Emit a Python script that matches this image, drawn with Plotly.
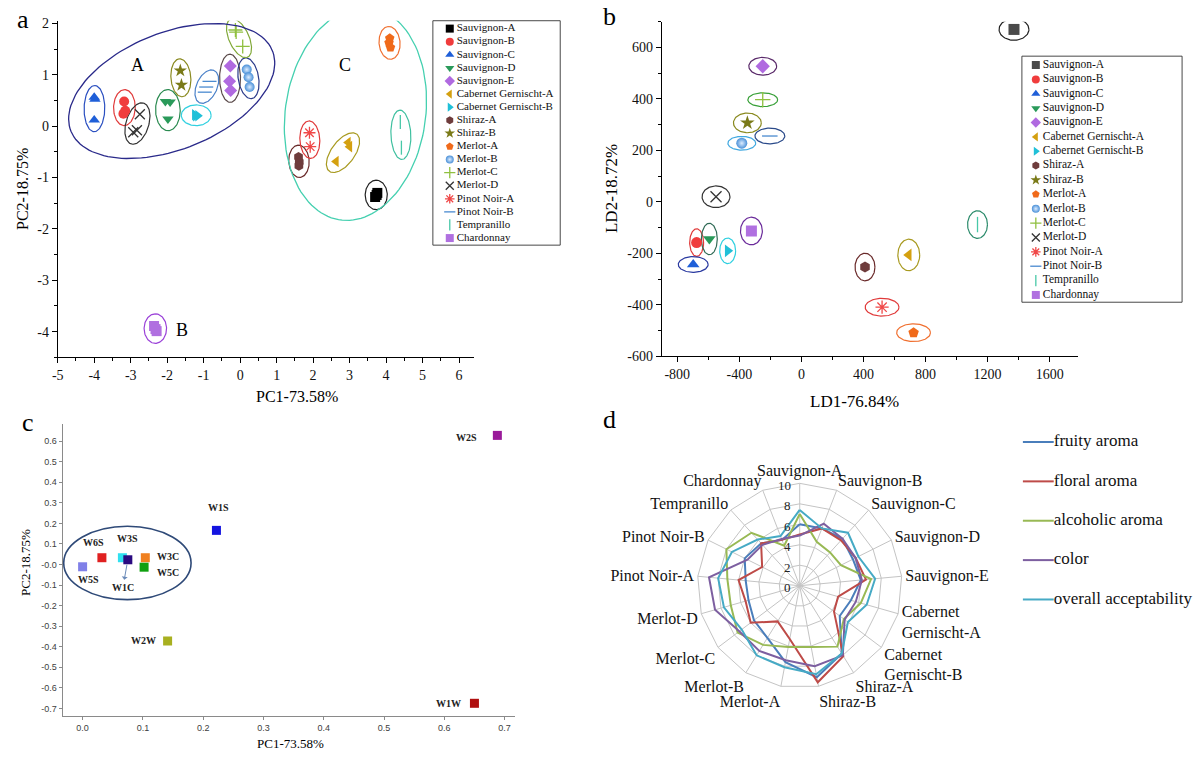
import numpy as np
import plotly.graph_objects as go

W, H = 1200, 763
SERIF = "Liberation Serif"
SANS = "Liberation Sans"

# ======================= DATA =======================
varieties = ["Sauvignon-A", "Sauvignon-B", "Sauvignon-C", "Sauvignon-D", "Sauvignon-E",
             "Cabernet Gernischt-A", "Cabernet Gernischt-B", "Shiraz-A", "Shiraz-B",
             "Merlot-A", "Merlot-B", "Merlot-C", "Merlot-D", "Pinot Noir-A",
             "Pinot Noir-B", "Tempranillo", "Chardonnay"]

# (a) PCA scores of replicate samples
pca_variety = ["Sauvignon-A", "Sauvignon-A", "Sauvignon-A",
               "Sauvignon-B", "Sauvignon-B", "Sauvignon-B",
               "Sauvignon-C", "Sauvignon-C", "Sauvignon-C",
               "Sauvignon-D", "Sauvignon-D", "Sauvignon-D",
               "Sauvignon-E", "Sauvignon-E", "Sauvignon-E",
               "Cabernet Gernischt-A", "Cabernet Gernischt-A", "Cabernet Gernischt-A",
               "Cabernet Gernischt-B", "Cabernet Gernischt-B", "Cabernet Gernischt-B",
               "Shiraz-A", "Shiraz-A", "Shiraz-A",
               "Shiraz-B", "Shiraz-B",
               "Merlot-A", "Merlot-A", "Merlot-A",
               "Merlot-B", "Merlot-B", "Merlot-B",
               "Merlot-C", "Merlot-C", "Merlot-C",
               "Merlot-D", "Merlot-D", "Merlot-D",
               "Pinot Noir-A", "Pinot Noir-A",
               "Pinot Noir-B", "Pinot Noir-B", "Pinot Noir-B",
               "Tempranillo", "Tempranillo",
               "Chardonnay", "Chardonnay", "Chardonnay"]
pca_pc1 = [3.76, 3.70, 3.74,
           -3.18, -3.15, -3.20,
           -4.00, -3.98, -4.00,
           -2.05, -1.92, -1.98,
           -0.27, -0.29, -0.26,
           2.96, 3.00, 2.63,
           -1.22, -1.25, -1.16,
           1.60, 1.62, 1.61,
           -1.64, -1.61,
           4.10, 4.08, 4.12,
           0.18, 0.23, 0.26,
           -0.13, -0.11, 0.07,
           -2.75, -2.83, -2.93,
           1.90, 1.92,
           -0.84, -0.93, -0.97,
           4.39, 4.42,
           -2.36, -2.29, -2.32]
pca_pc2 = [-1.30, -1.38, -1.34,
           0.48, 0.30, 0.24,
           0.56, 0.52, 0.12,
           0.48, 0.47, 0.14,
           1.17, 0.87, 0.69,
           -0.32, -0.40, -0.69,
           0.20, 0.22, 0.20,
           -0.60, -0.70, -0.77,
           1.08, 0.80,
           1.71, 1.62, 1.53,
           1.10, 0.95, 0.76,
           1.87, 1.83, 1.55,
           0.23, -0.08, -0.12,
           -0.13, -0.40,
           0.87, 0.76, 0.66,
           0.08, -0.42,
           -3.89, -3.99, -3.95]
cluster_A = ["Sauvignon-B", "Sauvignon-C", "Sauvignon-D", "Sauvignon-E", "Cabernet Gernischt-B",
             "Shiraz-B", "Merlot-B", "Merlot-C", "Merlot-D", "Pinot Noir-B"]
cluster_C = ["Sauvignon-A", "Cabernet Gernischt-A", "Shiraz-A", "Merlot-A", "Pinot Noir-A", "Tempranillo"]
cluster_B = ["Chardonnay"]

# (b) LDA scores (order = varieties)
lda_ld1 = [1370, -675, -697, -593, -249, 692, -475, 410, -348, 723, -384, -249, -550, 520, -203, 1135, -322]
lda_ld2 = [670, -158, -243, -144, 527, -206, -190, -253, 307, -508, 228, 397, 20, -409, 256, -88, -113]

# (c) PCA of wines
wine_codes = ["W2S", "W1S", "W6S", "W3S", "W1C", "W3C", "W5C", "W5S", "W2W", "W1W"]
wine_pc1 = [0.688, 0.222, 0.032, 0.066, 0.075, 0.104, 0.102, 0.000, 0.141, 0.650]
wine_pc2 = [0.628, 0.166, 0.033, 0.033, 0.023, 0.033, -0.013, -0.011, -0.372, -0.675]
wine_circled = ["W6S", "W3S", "W1C", "W3C", "W5C", "W5S"]

# (d) sensory radar
radar_categories = varieties
radar_ticks = [0, 2, 4, 6, 8, 10]
fruity_aroma = [6.0, 6.0, 6.2, 5.8, 6.0, 5.2, 4.9, 7.8, 9.1, 7.6, 6.0, 5.6, 5.2, 5.3, 6.0, 5.6, 4.8]
floral_aroma = [5.0, 6.0, 6.0, 6.1, 6.5, 3.9, 4.2, 8.1, 9.6, 5.3, 4.1, 6.0, 5.5, 6.0, 4.1, 5.6, 4.8]
alcoholic_aroma = [7.0, 4.6, 4.4, 4.5, 7.0, 6.2, 5.4, 7.0, 6.1, 6.1, 6.8, 7.6, 7.0, 7.1, 8.0, 7.0, 4.2]
color_score = [4.9, 6.5, 6.2, 6.1, 6.1, 5.7, 5.5, 8.0, 8.0, 7.4, 7.5, 7.4, 8.6, 8.9, 5.7, 5.4, 4.9]
overall_acceptability = [7.4, 6.0, 7.0, 6.4, 7.4, 6.8, 5.9, 7.8, 8.8, 8.1, 8.0, 7.1, 7.7, 8.0, 7.4, 6.1, 5.2]
radar_series = ["fruity aroma", "floral aroma", "alcoholic aroma", "color", "overall acceptability"]

# ======================= STYLE =======================
marker_sym = {"Sauvignon-A": "square", "Sauvignon-B": "circle", "Sauvignon-C": "triangle-up",
              "Sauvignon-D": "triangle-down", "Sauvignon-E": "diamond",
              "Cabernet Gernischt-A": "triangle-left", "Cabernet Gernischt-B": "triangle-right",
              "Shiraz-A": "hexagon", "Shiraz-B": "star", "Merlot-A": "pentagon", "Merlot-B": "circle",
              "Merlot-C": "cross-thin-open", "Merlot-D": "x-thin-open", "Pinot Noir-A": "asterisk-open",
              "Pinot Noir-B": "line-ew-open", "Tempranillo": "line-ns-open", "Chardonnay": "square"}
marker_col = {"Sauvignon-A": "#000000", "Sauvignon-B": "#f03c3c", "Sauvignon-C": "#1f5fd8",
              "Sauvignon-D": "#2a9a5a", "Sauvignon-E": "#b06ae0", "Cabernet Gernischt-A": "#d4a010",
              "Cabernet Gernischt-B": "#20c0d8", "Shiraz-A": "#6e3c3c", "Shiraz-B": "#7a7a18",
              "Merlot-A": "#f06a1a", "Merlot-B": "#4a90d8", "Merlot-C": "#90c040", "Merlot-D": "#333333",
              "Pinot Noir-A": "#f04848", "Pinot Noir-B": "#4a8ad0", "Tempranillo": "#48c8a8",
              "Chardonnay": "#b070e0"}
marker_col_b = dict(marker_col, **{"Sauvignon-A": "#4a4a4a"})
ell_col_a = {"Sauvignon-A": "#222222", "Sauvignon-B": "#e03a3a", "Sauvignon-C": "#2a4fc0",
             "Sauvignon-D": "#2a8a50", "Sauvignon-E": "#5a4a4a", "Cabernet Gernischt-A": "#a89a20",
             "Cabernet Gernischt-B": "#30d0e0", "Shiraz-A": "#6a2a2a", "Shiraz-B": "#8a8a20",
             "Merlot-A": "#f07030", "Merlot-B": "#2a3a8a", "Merlot-C": "#80a838", "Merlot-D": "#333333",
             "Pinot Noir-A": "#e03a3a", "Pinot Noir-B": "#4a80c8", "Tempranillo": "#40c0a0",
             "Chardonnay": "#9a40d8"}
ell_col_b = dict(ell_col_a, **{"Sauvignon-D": "#2f6a55", "Sauvignon-E": "#5a2a6a", "Merlot-B": "#40a8e0",
                               "Merlot-C": "#38a038", "Pinot Noir-B": "#2a4a8a", "Tempranillo": "#2a8a6a",
                               "Chardonnay": "#6a2a9a", "Sauvignon-C": "#2a3aa0"})
ell_horizontal_a = ["Cabernet Gernischt-B"]
ell_size_b = {"Sauvignon-A": (15, 11), "Sauvignon-B": (7, 14), "Sauvignon-C": (15, 8),
              "Sauvignon-D": (8, 16), "Sauvignon-E": (14, 9), "Cabernet Gernischt-A": (11, 16),
              "Cabernet Gernischt-B": (8, 13), "Shiraz-A": (10, 14), "Shiraz-B": (14, 10),
              "Merlot-A": (17, 9), "Merlot-B": (14, 7), "Merlot-C": (15, 7), "Merlot-D": (14, 11),
              "Pinot Noir-A": (17, 9), "Pinot Noir-B": (15, 8), "Tempranillo": (10, 14),
              "Chardonnay": (11, 14)}
wine_col = {"W2S": "#9a1a9a", "W1S": "#1414e0", "W6S": "#e02020", "W3S": "#30e0f0", "W1C": "#2a0a80",
            "W3C": "#f08020", "W5C": "#10a010", "W5S": "#8080e8", "W2W": "#a8b020", "W1W": "#b01010"}
wine_label_off = {"W2S": (-31, 2), "W1S": (2, -23), "W6S": (-8, -15), "W3S": (5, -19), "W1C": (-5, 28),
                  "W3C": (23, -1), "W5C": (24, 5), "W5S": (6, 13), "W2W": (-24, 0), "W1W": (-26, 0)}
radar_col = ["#4a7ebb", "#be4b48", "#98b954", "#7d5fa0", "#46aac5"]

# panel geometry in pixels
GA = dict(x0=52, x1=470, y0=17, y1=359, xr=(-5, 6.4), yr=(-4.5, 2.05))
GB = dict(x0=659, x1=1077, y0=18, y1=358, xr=(-900, 1780), yr=(-600, 700))
GC = dict(x0=57, x1=512, y0=427, y1=723, xr=(-0.033, 0.718), yr=(-0.735, 0.682))
RADAR_C = (797.7, 591.0)
RADAR_R = 104.0


def dom_x(x0, x1):
    return [x0 / W, x1 / W]


def dom_y(y0, y1):
    return [1 - y1 / H, 1 - y0 / H]


def scales(g):
    return ((g["x1"] - g["x0"]) / (g["xr"][1] - g["xr"][0]),
            (g["y1"] - g["y0"]) / (g["yr"][1] - g["yr"][0]))


def marker_for(v, size, cols):
    sym = marker_sym[v]
    col = cols[v]
    m = dict(symbol=sym, size=size, color=col)
    if sym.endswith("-open"):
        m["line"] = dict(color=col, width=1.3)
    else:
        m["line"] = dict(width=0)
    if v == "Merlot-B":
        m["gradient"] = dict(type="radial", color="#dcecff")
    return m


def fit_ellipse(xs, ys, sx, sy, pad_a, pad_b, min_a, min_b, horizontal=False, tilt_deg=None):
    P = np.column_stack([np.asarray(xs) * sx, np.asarray(ys) * sy])
    c = P.mean(axis=0)
    if tilt_deg is not None:
        r = np.radians(tilt_deg)
        u = np.array([np.sin(r), np.cos(r)])
    elif len(P) > 1 and np.ptp(P, axis=0).max() > 8:
        w, v = np.linalg.eigh(np.cov((P - c).T))
        u = v[:, np.argmax(w)]
    else:
        u = np.array([1.0, 0.0]) if horizontal else np.array([0.0, 1.0])
    p = np.array([-u[1], u[0]])
    q1 = (P - c) @ u
    q2 = (P - c) @ p
    center = c + (q1.max() + q1.min()) / 2 * u + (q2.max() + q2.min()) / 2 * p
    a = max((q1.max() - q1.min()) / 2 + pad_a, min_a)
    b = max((q2.max() - q2.min()) / 2 + pad_b, min_b)
    t = np.linspace(0, 2 * np.pi, 120)
    pts = center[None, :] + np.outer(a * np.cos(t), u) + np.outer(b * np.sin(t), p)
    return pts[:, 0] / sx, pts[:, 1] / sy, center[0] / sx, center[1] / sy


def tick_cfg(vals, fmt):
    return dict(tickmode="array", tickvals=list(vals), ticktext=[fmt(v) for v in vals])


fig = go.Figure()

# ======================= PANEL A =======================
sxa, sya = scales(GA)
pv = np.array(pca_variety)
p1 = np.array(pca_pc1)
p2 = np.array(pca_pc2)
for v in varieties:
    sel = pv == v
    ex, ey, _, _ = fit_ellipse(p1[sel], p2[sel], sxa, sya, 12, 10, 15, 10, v in ell_horizontal_a)
    fig.add_trace(go.Scatter(x=ex, y=ey, mode="lines", line=dict(color=ell_col_a[v], width=1.2),
                             xaxis="x", yaxis="y", showlegend=False, hoverinfo="skip"))
for v in varieties:
    sel = pv == v
    fig.add_trace(go.Scatter(x=p1[sel], y=p2[sel], mode="markers", name=v,
                             marker=marker_for(v, 10, marker_col), xaxis="x", yaxis="y",
                             showlegend=False, cliponaxis=False))

big_centers = {}
for name, members, col, pad_a, pad_b, tilt in [("A", cluster_A, "#2a2a8a", 26, 26, None),
                                               ("C", cluster_C, "#45d0b0", 28, 20, 8)]:
    sel = np.isin(pv, members)
    ex, ey, cx, cy = fit_ellipse(p1[sel], p2[sel], sxa, sya, pad_a, pad_b, 0, 0, tilt_deg=tilt)
    big_centers[name] = (cx, cy)
    fig.add_trace(go.Scatter(x=ex, y=ey, mode="lines", line=dict(color=col, width=1.3),
                             xaxis="x", yaxis="y", showlegend=False, hoverinfo="skip", cliponaxis=False))
selB = np.isin(pv, cluster_B)
big_centers["B"] = (p1[selB].mean(), p2[selB].mean())
label_off = {"A": (-34, 26), "C": (-10, 49), "B": (27, -1)}
for k in ["A", "B", "C"]:
    fig.add_annotation(x=big_centers[k][0], y=big_centers[k][1], xref="x", yref="y", text=k,
                       showarrow=False, xshift=label_off[k][0], yshift=label_off[k][1],
                       font=dict(family=SERIF, size=18, color="black"))

# ======================= PANEL B =======================
sxb, syb = scales(GB)
t = np.linspace(0, 2 * np.pi, 100)
for i, v in enumerate(varieties):
    rx, ry = ell_size_b[v]
    fig.add_trace(go.Scatter(x=lda_ld1[i] + rx * np.cos(t) / sxb, y=lda_ld2[i] + ry * np.sin(t) / syb,
                             mode="lines", line=dict(color=ell_col_b[v], width=1.2),
                             xaxis="x2", yaxis="y2", showlegend=False, hoverinfo="skip"))
for i, v in enumerate(varieties):
    fig.add_trace(go.Scatter(x=[lda_ld1[i]], y=[lda_ld2[i]], mode="markers", name=v,
                             marker=marker_for(v, 11, marker_col_b), xaxis="x2", yaxis="y2",
                             showlegend=False, cliponaxis=False))

# ======================= PANEL C =======================
sxc, syc = scales(GC)
for i, w in enumerate(wine_codes):
    fig.add_trace(go.Scatter(x=[wine_pc1[i]], y=[wine_pc2[i]], mode="markers", name=w,
                             marker=dict(symbol="square", size=9, color=wine_col[w], line=dict(width=0)),
                             xaxis="x3", yaxis="y3", showlegend=False, cliponaxis=False))
    dx, dy = wine_label_off[w]
    if w == "W1C":
        fig.add_annotation(x=wine_pc1[i], y=wine_pc2[i], xref="x3", yref="y3", text="W1C",
                           showarrow=True, ax=dx, ay=dy, arrowside="start", arrowhead=2,
                           arrowsize=1, arrowwidth=1, arrowcolor="#6a8ab8", standoff=5,
                           startstandoff=1, font=dict(family=SERIF, size=10, color="#222", weight="bold"))
    else:
        fig.add_annotation(x=wine_pc1[i], y=wine_pc2[i], xref="x3", yref="y3", text=w,
                           showarrow=False, xshift=dx, yshift=-dy,
                           font=dict(family=SERIF, size=10, color="#222", weight="bold"))
ci = [wine_codes.index(w) for w in wine_circled]
cx_vals = np.array(wine_pc1)[ci]
cy_vals = np.array(wine_pc2)[ci]
fig.add_shape(type="circle", xref="x3", yref="y3",
              x0=cx_vals.min() - 19 / sxc, x1=cx_vals.max() + 46 / sxc,
              y0=cy_vals.min() - 33 / syc, y1=cy_vals.max() + 32 / syc,
              line=dict(color="#2f4a78", width=1.6))

# ======================= PANEL D =======================
theta_lbl = [c.replace("Cabernet ", "Cabernet<br>") for c in radar_categories]
for vals, name, col in zip([fruity_aroma, floral_aroma, alcoholic_aroma, color_score, overall_acceptability],
                           radar_series, radar_col):
    fig.add_trace(go.Scatterpolar(r=vals + vals[:1], theta=theta_lbl + theta_lbl[:1], mode="lines",
                                  name=name, line=dict(color=col, width=2), showlegend=False,
                                  subplot="polar"))
# radial tick labels drawn left of the first (vertical) spoke
for v in radar_ticks:
    fig.add_annotation(x=(RADAR_C[0] - 7) / W, y=1 - (RADAR_C[1] - v / 10 * RADAR_R + 2) / H,
                       xref="paper", yref="paper", text=str(v), showarrow=False,
                       xanchor="right", yanchor="middle",
                       font=dict(family=SERIF, size=13, color="#222"))

# ======================= CUSTOM LEGENDS =======================
LEG_A = dict(box=(429, 557, 17, 245), first=25.0, step=13.3, mx=446, tx=453, fs=11)
LEG_B = dict(box=(1021, 1182, 53, 303), first=62.0, step=14.6, mx=1035, tx=1042, fs=11.5)
for leg, cols in [(LEG_A, marker_col), (LEG_B, marker_col_b)]:
    x0, x1, y0, y1 = leg["box"]
    fig.add_shape(type="rect", xref="x9", yref="y9", x0=x0, x1=x1, y0=y0, y1=y1,
                  line=dict(color="#333", width=0.9))
    for i, v in enumerate(varieties):
        yy = leg["first"] + i * leg["step"]
        fig.add_trace(go.Scatter(x=[leg["mx"]], y=[yy], mode="markers", marker=marker_for(v, 8, cols),
                                 xaxis="x9", yaxis="y9", showlegend=False, hoverinfo="skip", cliponaxis=False))
        fig.add_trace(go.Scatter(x=[leg["tx"]], y=[yy], mode="text", text=[v], textposition="middle right",
                                 textfont=dict(family=SERIF, size=leg["fs"], color="#111"),
                                 xaxis="x9", yaxis="y9", showlegend=False, hoverinfo="skip", cliponaxis=False))
LEG_D = dict(x0=1022, x1=1053, tx=1053, first=445.0, step=40.0, fs=17)
for i, (name, col) in enumerate(zip(radar_series, radar_col)):
    yy = LEG_D["first"] + i * LEG_D["step"]
    fig.add_trace(go.Scatter(x=[LEG_D["x0"], LEG_D["x1"]], y=[yy, yy], mode="lines",
                             line=dict(color=col, width=2), xaxis="x9", yaxis="y9",
                             showlegend=False, hoverinfo="skip", cliponaxis=False))
    fig.add_trace(go.Scatter(x=[LEG_D["tx"]], y=[yy], mode="text", text=[name], textposition="middle right",
                             textfont=dict(family=SERIF, size=LEG_D["fs"], color="#111"),
                             xaxis="x9", yaxis="y9", showlegend=False, hoverinfo="skip", cliponaxis=False))

# ======================= LAYOUT =======================
axis_common = dict(showgrid=False, zeroline=False, showline=True, linecolor="black", linewidth=1,
                   ticks="outside", ticklen=5, tickcolor="black", tickwidth=1,
                   tickfont=dict(family=SERIF, size=14, color="#111"), fixedrange=True)
gray_axis = dict(showgrid=False, zeroline=False, showline=True, linecolor="#8a8a8a", linewidth=1.2,
                 ticks="outside", ticklen=3, tickcolor="#8a8a8a",
                 tickfont=dict(family=SANS, size=9, color="#404040"), fixedrange=True)

fig.update_layout(
    width=W, height=H, margin=dict(l=0, r=0, t=0, b=0),
    paper_bgcolor="white", plot_bgcolor="rgba(0,0,0,0)",
    font=dict(family=SERIF, color="black"),
    xaxis=dict(axis_common, domain=dom_x(GA["x0"], GA["x1"]), range=list(GA["xr"]), anchor="y",
               minor=dict(dtick=0.5, tick0=-5, ticks="outside", ticklen=3, tickcolor="black"),
               **tick_cfg(range(-5, 7), lambda v: str(v))),
    yaxis=dict(axis_common, domain=dom_y(GA["y0"], GA["y1"]), range=list(GA["yr"]), anchor="x",
               minor=dict(dtick=0.5, tick0=0, ticks="outside", ticklen=3, tickcolor="black"),
               **tick_cfg(range(-4, 3), lambda v: str(v))),
    xaxis2=dict(axis_common, domain=dom_x(GB["x0"], GB["x1"]), range=list(GB["xr"]), anchor="y2",
                minor=dict(dtick=200, tick0=0, ticks="outside", ticklen=3, tickcolor="black"),
                **tick_cfg(range(-800, 1601, 400), lambda v: str(v))),
    yaxis2=dict(axis_common, domain=dom_y(GB["y0"], GB["y1"]), range=list(GB["yr"]), anchor="x2",
                minor=dict(dtick=100, tick0=0, ticks="outside", ticklen=3, tickcolor="black"),
                **tick_cfg(range(-600, 601, 200), lambda v: str(v))),
    xaxis3=dict(gray_axis, domain=dom_x(GC["x0"], GC["x1"]), range=list(GC["xr"]), anchor="y3",
                **tick_cfg([round(0.1 * k, 1) for k in range(0, 8)], lambda v: f"{v:.1f}")),
    yaxis3=dict(gray_axis, domain=dom_y(GC["y0"], GC["y1"]), range=list(GC["yr"]), anchor="x3",
                **tick_cfg([round(0.1 * k, 1) for k in range(-7, 7)],
                           lambda v: "-0.0" if abs(v) < 1e-9 else f"{v:.1f}")),
    xaxis9=dict(domain=[0, 1], range=[0, W], visible=False, anchor="y9", fixedrange=True),
    yaxis9=dict(domain=[0, 1], range=[H, 0], visible=False, anchor="x9", fixedrange=True),
    polar=dict(
        domain=dict(x=dom_x(RADAR_C[0] - RADAR_R, RADAR_C[0] + RADAR_R),
                    y=dom_y(RADAR_C[1] - RADAR_R, RADAR_C[1] + RADAR_R)),
        bgcolor="white", gridshape="linear",
        angularaxis=dict(direction="clockwise", rotation=90, type="category",
                         categoryarray=theta_lbl, showline=True, linecolor="#c4c4c4",
                         gridcolor="#c4c4c4", ticks="", tickfont=dict(family=SERIF, size=16, color="#111")),
        radialaxis=dict(range=[0, 10], tickvals=radar_ticks, showticklabels=False,
                        angle=90, showline=False, ticks="", gridcolor="#c4c4c4"),
    ),
)


def px_ann(x, y, text, size, angle=0, family=SERIF):
    fig.add_annotation(x=x / W, y=1 - y / H, xref="paper", yref="paper", text=text, showarrow=False,
                       textangle=angle, xanchor="center", yanchor="middle",
                       font=dict(family=family, size=size, color="black"))


px_ann(292, 399, "PC1-73.58%", 16)
px_ann(16, 188, "PC2-18.75%", 16, -90)
px_ann(853, 404, "LD1-76.84%", 17)
px_ann(608, 187, "LD2-18.72%", 17, -90)
px_ann(286, 751, "PC1-73.58%", 13)
px_ann(19, 567, "PC2-18.75%", 13, -90)
px_ann(17, 16, "a", 26)
px_ann(607, 13, "b", 26)
px_ann(22, 425, "c", 26)
px_ann(607, 422, "d", 26)

fig.write_html("out.html", config={"displayModeBar": False},
               post_script="document.body.style.margin='0px';document.body.style.overflow='hidden';")
